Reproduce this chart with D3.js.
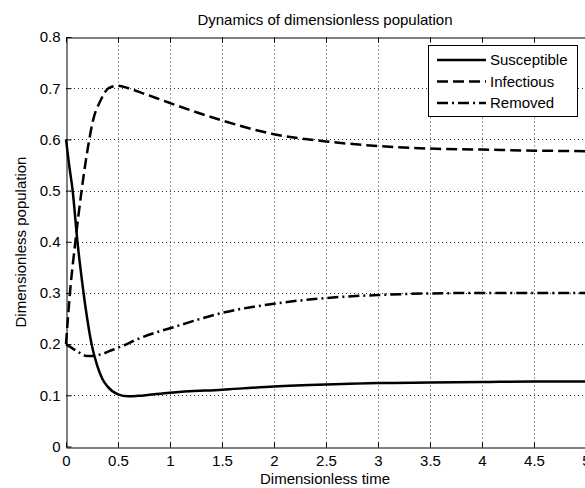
<!DOCTYPE html>
<html>
<head>
<meta charset="utf-8">
<script src="https://cdn.jsdelivr.net/npm/d3@7"></script>
<style>
  body { margin: 0; background: #fff; }
  svg { display: block; font-family: "Liberation Sans", Arial, sans-serif; }
</style>
</head>
<body>
<div id="chart"></div>
<script>
const width = 585;
const height = 488;
const margin = { top: 37, right: -1, bottom: 41, left: 66 };
const fontSize = 15;

// values
const susTime = [0, 0.03, 0.064, 0.11, 0.15, 0.2, 0.246, 0.3, 0.35, 0.4, 0.5, 0.6, 0.7, 0.8, 1.0, 1.5, 2.0, 2.5, 3.0, 3.5, 4.0, 4.5, 5.0];
const susceptible = [0.6, 0.55, 0.5, 0.4, 0.33, 0.255, 0.2, 0.158, 0.132, 0.117, 0.102, 0.098, 0.099, 0.101, 0.105, 0.111, 0.117, 0.121, 0.124, 0.125, 0.126, 0.127, 0.127];

const infTime = [0, 0.038, 0.09, 0.15, 0.224, 0.26, 0.33, 0.41, 0.5, 0.6, 0.74, 1.0, 1.5, 2.0, 2.5, 3.0, 3.5, 4.0, 4.5, 5.0];
const infectious = [0.2, 0.3, 0.4, 0.5, 0.6, 0.637, 0.675, 0.7, 0.705, 0.7, 0.69, 0.671, 0.637, 0.61, 0.596, 0.587, 0.582, 0.58, 0.578, 0.577];

const remTime = [0, 0.1, 0.2, 0.26, 0.35, 0.45, 0.55, 0.68, 0.9, 1.0, 1.5, 2.0, 2.5, 3.0, 3.5, 4.0, 4.5, 5.0];
const removed = [0.2, 0.187, 0.177, 0.177, 0.181, 0.189, 0.197, 0.209, 0.225, 0.231, 0.261, 0.279, 0.29, 0.296, 0.299, 0.3, 0.3, 0.3];

const xTicks = [0, 0.5, 1, 1.5, 2, 2.5, 3, 3.5, 4, 4.5, 5];
const yTicks = [0, 0.1, 0.2, 0.3, 0.4, 0.5, 0.6, 0.7, 0.8];

const seriesNames = ['Susceptible', 'Infectious', 'Removed'];

const series = [
  { name: seriesNames[0], t: susTime, v: susceptible, dash: null },
  { name: seriesNames[1], t: infTime, v: infectious, dash: '11,5' },
  { name: seriesNames[2], t: remTime, v: removed, dash: '11,4,2,4' }
];

const svg = d3.select('#chart')
  .append('svg')
  .attr('width', width)
  .attr('height', height);

const x = d3.scaleLinear()
  .domain([0, 5])
  .range([margin.left, width - margin.right]);

const y = d3.scaleLinear()
  .domain([0, 0.8])
  .range([height - margin.bottom - 0.5, margin.top]);

// grid
const grid = svg.append('g')
  .attr('stroke', '#333')
  .attr('stroke-width', 1)
  .attr('stroke-dasharray', '1,3');

grid.selectAll('.vx')
  .data(xTicks.slice(1))
  .join('line')
  .attr('x1', d => Math.round(x(d)) + 0.5)
  .attr('x2', d => Math.round(x(d)) + 0.5)
  .attr('y1', y(0))
  .attr('y2', y(0.8));

grid.selectAll('.hy')
  .data(yTicks.slice(1, -1))
  .join('line')
  .attr('x1', x(0))
  .attr('x2', x(5))
  .attr('y1', d => Math.round(y(d)) + 0.5)
  .attr('y2', d => Math.round(y(d)) + 0.5);

// axes (ticks inside, like MATLAB)
const fmt = d => d3.format('~g')(d);

svg.append('g')
  .attr('transform', `translate(0, ${Math.round(y(0)) + 0.5})`)
  .call(d3.axisBottom(x).tickValues(xTicks).tickFormat(fmt).tickSizeInner(-5).tickSizeOuter(0).tickPadding(8))
  .call(g => g.selectAll('text').attr('font-size', fontSize).attr('fill', '#000').attr('font-family', 'Liberation Sans, Arial, sans-serif'))
  .call(g => g.selectAll('line, path').attr('stroke', '#000'));

svg.append('g')
  .attr('transform', `translate(0, ${Math.round(y(0.8)) + 0.5})`)
  .call(d3.axisTop(x).tickValues(xTicks).tickFormat('').tickSizeInner(-5).tickSizeOuter(0))
  .call(g => g.selectAll('line, path').attr('stroke', '#000'));

svg.append('g')
  .attr('transform', `translate(${Math.round(x(0)) + 0.5}, 0)`)
  .call(d3.axisLeft(y).tickValues(yTicks).tickFormat(fmt).tickSizeInner(-5).tickSizeOuter(0).tickPadding(6))
  .call(g => g.selectAll('text').attr('font-size', fontSize).attr('fill', '#000').attr('font-family', 'Liberation Sans, Arial, sans-serif'))
  .call(g => g.selectAll('line, path').attr('stroke', '#000'));

// curves
const line = d3.line()
  .x(d => x(d[0]))
  .y(d => y(d[1]))
  .curve(d3.curveMonotoneX);

svg.append('g')
  .selectAll('path')
  .data(series)
  .join('path')
  .attr('d', s => line(s.t.map((t, i) => [t, s.v[i]])))
  .attr('fill', 'none')
  .attr('stroke', '#000')
  .attr('stroke-width', 2.5)
  .attr('stroke-dasharray', s => s.dash);

// legend
const legend = svg.append('g');
legend.append('rect')
  .attr('x', 428.5)
  .attr('y', 45.5)
  .attr('width', 149)
  .attr('height', 71)
  .attr('fill', '#fff')
  .attr('stroke', '#000');

const items = legend.selectAll('.item')
  .data(series)
  .join('g')
  .attr('transform', (d, i) => `translate(0, ${60 + i * 21.5})`);

items.append('line')
  .attr('x1', 437)
  .attr('x2', 486)
  .attr('stroke', '#000')
  .attr('stroke-width', 2.5)
  .attr('stroke-dasharray', d => d.dash);

items.append('text')
  .attr('x', 490)
  .attr('dy', '0.35em')
  .attr('font-size', fontSize)
  .text(d => d.name);

// title and labels
svg.append('text')
  .attr('x', 325)
  .attr('y', 25)
  .attr('text-anchor', 'middle')
  .attr('font-size', fontSize)
  .text('Dynamics of dimensionless population');

svg.append('text')
  .attr('x', 325)
  .attr('y', 484)
  .attr('text-anchor', 'middle')
  .attr('font-size', fontSize)
  .text('Dimensionless time');

svg.append('text')
  .attr('transform', 'translate(26, 242) rotate(-90)')
  .attr('text-anchor', 'middle')
  .attr('font-size', fontSize)
  .text('Dimensionless population');
</script>
</body>
</html>
